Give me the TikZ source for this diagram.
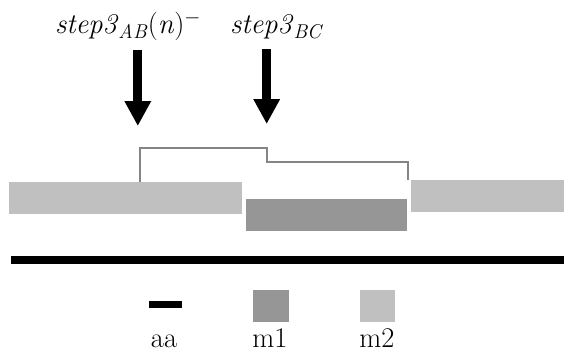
\documentclass[tikz,border=0pt]{standalone}
\usepackage{fontspec}
\usetikzlibrary{arrows.meta}
\definecolor{lightg}{gray}{0.753}
\definecolor{darkg}{gray}{0.588}
\definecolor{lineg}{gray}{0.52}
\begin{document}
\begin{tikzpicture}[x=1pt,y=-1pt,
  box/.style={rectangle,inner sep=0pt,outer sep=0pt,draw=none,anchor=north west},
  lbl/.style={inner sep=0pt,outer sep=0pt,font=\rmfamily\fontsize{28.5}{34}\selectfont},
  bigarrow/.style={line width=9pt,-{Triangle[width=25pt,length=25pt]}},
  bracket/.style={draw=lineg,line width=2pt}]
\useasboundingbox (0,0) rectangle (564,354);
% labels
\node[lbl,anchor=base west] (l1) at (55,33) {\textit{step3}\textsubscript{\textit{AB}}(\textit{n})\textsuperscript{$-$}};
\node[lbl,anchor=base west] (l2) at (230,33) {\textit{step3}\textsubscript{\textit{BC}}};
% arrows
\coordinate (a1s) at (137.8,50);
\coordinate (a1e) at (137.8,126);
\coordinate (a2s) at (266.7,49);
\coordinate (a2e) at (266.7,124);
\draw[bigarrow] (a1s) -- (a1e);
\draw[bigarrow] (a2s) -- (a2e);
% boxes
\node[box,fill=lightg,minimum width=233.5pt,minimum height=32pt] (left) at (8.5,182) {};
\node[box,fill=darkg,minimum width=160.5pt,minimum height=31.5pt] (mid) at (246,199) {};
\node[box,fill=lightg,minimum width=153.5pt,minimum height=32pt] (right) at (410.5,180) {};
\node[box,fill=black,minimum width=553pt,minimum height=8pt] (base) at (11,255.5) {};
% bracket
\coordinate (b0) at (139.5,182);
\coordinate (b1) at (139.5,148);
\coordinate (b2) at (266.5,148);
\coordinate (b3) at (266.5,162);
\coordinate (b4) at (408,162);
\coordinate (b5) at (408,180);
\draw[bracket,line join=miter] (b0) -- (b1) -- (b2) -- (b3) -- (b4) -- (b5);
% legend
\node[box,fill=black,minimum width=33pt,minimum height=7.3pt] (kaa) at (149.3,301) {};
\node[box,fill=darkg,minimum width=35.7pt,minimum height=32.3pt] (km1) at (253.3,290) {};
\node[box,fill=lightg,minimum width=35.3pt,minimum height=32.3pt] (km2) at (360,290) {};
\node[lbl,anchor=base] (taa) at (164,347) {aa};
\node[lbl,anchor=base] (tm1) at (270,347) {m1};
\node[lbl,anchor=base] (tm2) at (377,347) {m2};
\end{tikzpicture}
\end{document}
